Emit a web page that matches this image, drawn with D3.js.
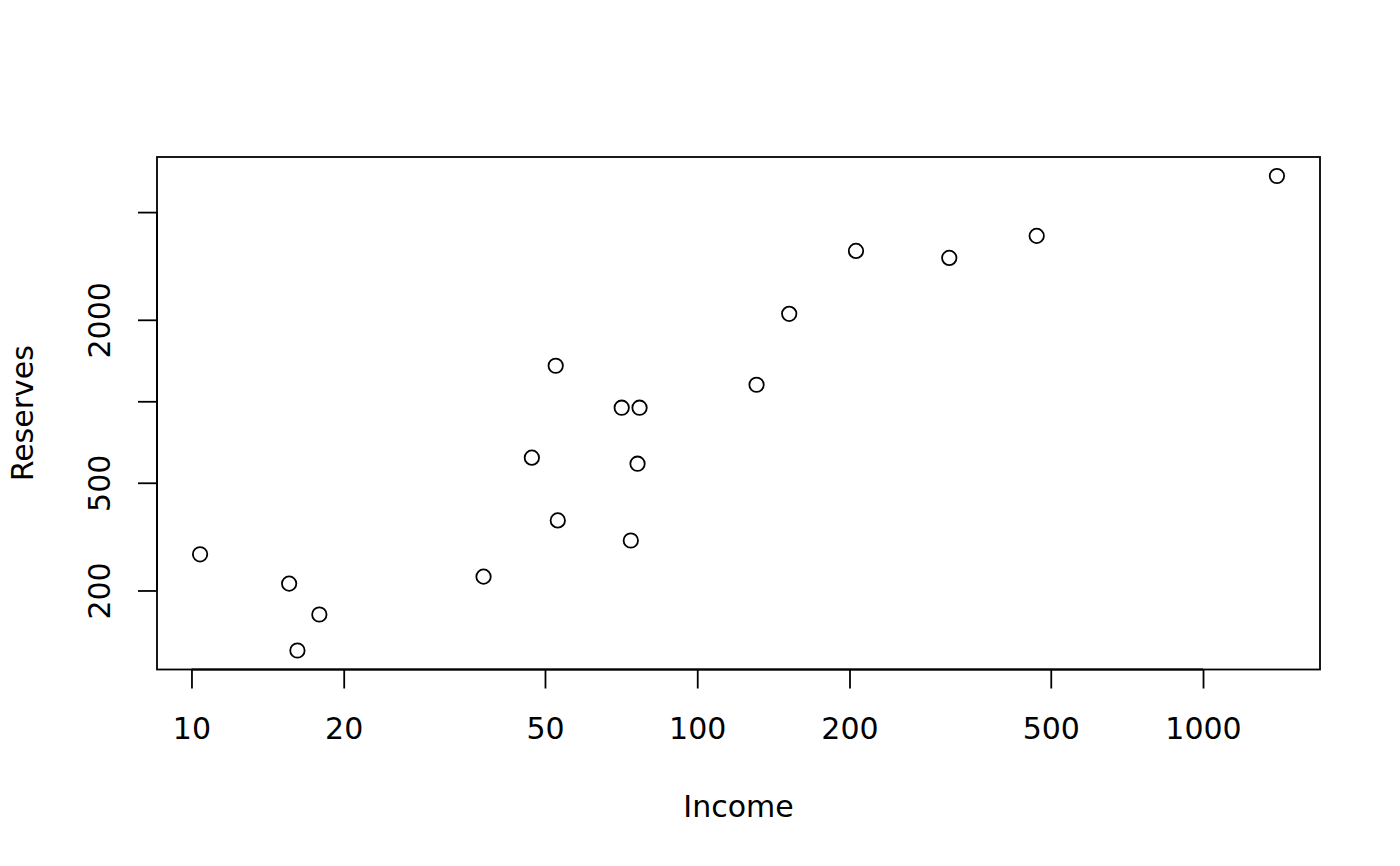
<!DOCTYPE html>
<html>
<head>
<meta charset="utf-8">
<script src="https://cdn.jsdelivr.net/npm/d3@7"></script>
<style>
  html, body { margin: 0; padding: 0; background: #fff; }
  svg { display: block; }
  text { font-family: "DejaVu Sans", sans-serif; fill: #000; }
</style>
</head>
<body>
<svg id="chart" width="1400" height="866"></svg>
<script>
// Data (Income, Reserves)
const income   = [10.4, 15.6, 17.9, 16.2, 37.8, 47.1, 52.5, 53.0, 70.9, 76.9, 76.2, 73.9, 131, 152, 206, 315, 469, 1400];
const reserves = [272, 212, 163, 120, 225, 619, 1353, 363, 947, 947, 588, 306, 1151, 2104, 3594, 3386, 4084, 6798];

const xTicks  = [10, 20, 50, 100, 200, 500, 1000];
const xLabels = ["10", "20", "50", "100", "200", "500", "1000"];
const yTicks  = [200, 500, 1000, 2000, 5000];
const yLabels = ["200", "500", "", "2000", ""];

const xTitle = "Income";
const yTitle = "Reserves";

const svg = d3.select("#chart");
const plot = { left: 157, right: 1320, top: 157, bottom: 669.5 };

function rRange(vals) {
  const lo = Math.log10(d3.min(vals)), hi = Math.log10(d3.max(vals));
  const pad = (hi - lo) * 0.04;
  return [Math.pow(10, lo - pad), Math.pow(10, hi + pad)];
}

const x = d3.scaleLog().domain(rRange(income)).range([plot.left, plot.right]);
const y = d3.scaleLog().domain(rRange(reserves)).range([plot.bottom, plot.top]);

const FS = 30;
const TICK = 19;
const SW = 1.8;

// Box
svg.append("rect")
  .attr("x", plot.left).attr("y", plot.top)
  .attr("width", plot.right - plot.left).attr("height", plot.bottom - plot.top)
  .attr("fill", "none").attr("stroke", "#000").attr("stroke-width", SW);

// X axis
const xAxis = d3.axisBottom(x).tickValues(xTicks)
  .tickFormat((d, i) => xLabels[i]).tickSize(TICK).tickPadding(0);
const gx = svg.append("g").attr("transform", `translate(0,${plot.bottom})`).call(xAxis);
gx.select(".domain")
  .attr("d", `M${x(xTicks[0])},0H${x(xTicks[xTicks.length - 1])}`)
  .attr("stroke-width", SW);
gx.selectAll(".tick line").attr("stroke-width", SW);
gx.selectAll(".tick text")
  .attr("y", 739 - plot.bottom).attr("dy", null)
  .style("font-size", FS + "px").style("font-family", "DejaVu Sans, sans-serif");

// Y axis
const yAxis = d3.axisLeft(y).tickValues(yTicks)
  .tickFormat((d, i) => yLabels[i]).tickSize(TICK).tickPadding(0);
const gy = svg.append("g").attr("transform", `translate(${plot.left},0)`).call(yAxis);
gy.select(".domain")
  .attr("d", `M0,${y(yTicks[0])}V${y(yTicks[yTicks.length - 1])}`)
  .attr("stroke-width", SW);
gy.selectAll(".tick line").attr("stroke-width", SW);
gy.selectAll(".tick text")
  .attr("x", null).attr("dy", null)
  .attr("text-anchor", "middle")
  .attr("transform", `translate(${110 - plot.left},0) rotate(-90)`)
  .style("font-size", FS + "px").style("font-family", "DejaVu Sans, sans-serif");

// Axis titles
svg.append("text")
  .attr("x", (plot.left + plot.right) / 2).attr("y", 817)
  .attr("text-anchor", "middle").style("font-size", FS + "px")
  .text(xTitle);
svg.append("text")
  .attr("transform", `translate(33,${(plot.top + plot.bottom) / 2}) rotate(-90)`)
  .attr("text-anchor", "middle").style("font-size", FS + "px")
  .text(yTitle);

// Points
svg.append("g").selectAll("circle")
  .data(income.map((v, i) => [v, reserves[i]]))
  .join("circle")
  .attr("cx", d => x(d[0])).attr("cy", d => y(d[1]))
  .attr("r", 7.2)
  .attr("fill", "none").attr("stroke", "#000").attr("stroke-width", SW);
</script>
</body>
</html>
